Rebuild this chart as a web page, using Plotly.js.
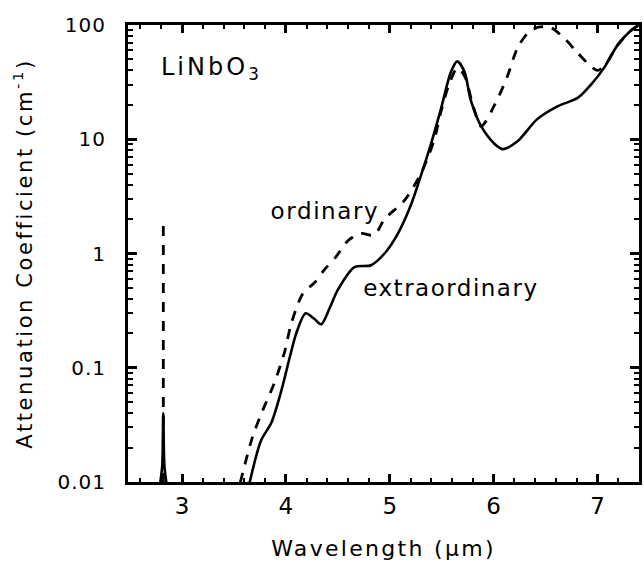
<!DOCTYPE html>
<html>
<head>
<meta charset="utf-8">
<script src="https://cdn.plot.ly/plotly-3.0.1.min.js"></script>
<style>
html,body{margin:0;padding:0;background:#fff;}
#wrap{position:relative;width:644px;height:566px;}
#chart{width:644px;height:566px;}
#tickOverlay{position:absolute;left:0;top:0;width:644px;height:566px;pointer-events:none;z-index:10;}
.y2title{letter-spacing:2.6px;}
.x2title{letter-spacing:2.3px;}
.annotation[data-index="0"] .annotation-text{letter-spacing:3px;}
.annotation[data-index="1"] .annotation-text{letter-spacing:1.6px;}
.annotation[data-index="2"] .annotation-text{letter-spacing:1.5px;}
.y2tick text{letter-spacing:1px;}
</style>
</head>
<body>
<div id="wrap">
<div id="chart"></div>
<svg id="tickOverlay" xmlns="http://www.w3.org/2000/svg" width="644" height="566" viewBox="0 0 644 566"></svg>
</div>
<script>
// Extraordinary (solid) — includes small spike near 2.82 µm
const extraordinary_x = [2.79, 2.81, 2.82, 2.83, 2.85, null,
  3.65, 3.76, 3.86, 3.95, 4.04, 4.10, 4.19, 4.27, 4.34, 4.42, 4.50, 4.66, 4.82, 4.95, 5.08, 5.20, 5.30, 5.40, 5.49, 5.59, 5.65, 5.72, 5.78, 5.88, 6.01, 6.09, 6.23, 6.42, 6.62, 6.81, 6.93, 7.07, 7.19, 7.32, 7.40];
const extraordinary_y = [0.0098, 0.014, 0.04, 0.014, 0.0098, null,
  0.0098, 0.023, 0.033, 0.060, 0.126, 0.20, 0.30, 0.27, 0.24, 0.33, 0.48, 0.76, 0.79, 1.0, 1.5, 2.6, 4.8, 9.3, 18, 39, 48, 39, 22, 13, 9.1, 8.2, 9.6, 15, 19.5, 23, 29.5, 43, 66, 89, 100];
// Ordinary (dashed) — includes spike near 2.82 µm
const ordinary_x = [2.82, 2.82, null,
  3.56, 3.68, 3.78, 3.89, 3.99, 4.05, 4.16, 4.28, 4.37, 4.48, 4.60, 4.72, 4.85, 4.95, 5.14, 5.30, 5.43, 5.49, 5.57, 5.65, 5.72, 5.80, 5.88, 6.01, 6.13, 6.23, 6.33, 6.43, 6.55, 6.69, 6.80, 6.92, 7.00, 7.07, 7.19, 7.32, 7.40];
const ordinary_y = [0.0098, 2.0, null,
  0.0098, 0.025, 0.043, 0.074, 0.14, 0.24, 0.44, 0.56, 0.72, 0.93, 1.3, 1.5, 1.45, 2.0, 2.9, 5.0, 10, 17, 30, 42, 36, 20, 13, 20, 35, 63, 85, 96, 95, 75, 58, 45, 40, 44, 66, 89, 100];

const x_tick_vals = [3, 4, 5, 6, 7];
const x_tick_text = ['3', '4', '5', '6', '7'];
const y_tick_vals = [0.01, 0.1, 1, 10, 100];
const y_tick_text = ['0.01', '0.1', '1', '10', '100'];

const label_ordinary = 'ordinary';
const label_extraordinary = 'extraordinary';
const label_material = 'LiNbO<sub>3</sub>';
const title_x = 'Wavelength (µm)\u00a0';
const title_y = '\u00a0\u00a0\u00a0\u00a0Attenuation Coefficient (cm<sup>-1</sup>)';

const FONT = 'DejaVu Sans, Liberation Sans, Arial, sans-serif';
const X_RANGE = [2.48, 7.40];
const Y_RANGE = [-2, 2];

const traces = [
  {x: extraordinary_x, y: extraordinary_y, xaxis: 'x', yaxis: 'y', mode: 'lines', type: 'scatter',
   line: {color: '#000', width: 2.6, shape: 'spline', smoothing: 0.8}, connectgaps: false, showlegend: false, hoverinfo: 'skip', name: 'extraordinary'},
  {x: ordinary_x, y: ordinary_y, xaxis: 'x2', yaxis: 'y2', mode: 'lines', type: 'scatter',
   line: {color: '#000', width: 2.8, dash: '10px,9px', shape: 'spline', smoothing: 0.8}, connectgaps: false, showlegend: false, hoverinfo: 'skip', name: 'ordinary'}
];

const layout = {
  width: 644, height: 566,
  margin: {l: 128, r: 5, t: 25, b: 84},
  paper_bgcolor: '#fff', plot_bgcolor: 'rgba(0,0,0,0)',
  font: {family: FONT, size: 20, color: '#000'},
  showlegend: false,
  // frame + inside major/minor ticks on all four sides
  xaxis: {
    range: X_RANGE, tickmode: 'array', tickvals: x_tick_vals, showticklabels: false,
    ticks: 'inside', ticklen: 8, tickwidth: 2.5, tickcolor: '#000',
    showline: true, linewidth: 3, linecolor: '#000', mirror: 'ticks',
    showgrid: false, zeroline: false,
    minor: {dtick: 0.2, tick0: 0, ticks: 'inside', ticklen: 4, tickwidth: 2, tickcolor: '#000', showgrid: false}
  },
  yaxis: {
    type: 'log', range: Y_RANGE, tickmode: 'array', tickvals: y_tick_vals, showticklabels: false,
    ticks: 'inside', ticklen: 9, tickwidth: 2.5, tickcolor: '#000',
    showline: true, linewidth: 3, linecolor: '#000', mirror: 'ticks',
    showgrid: false, zeroline: false,
    minor: {dtick: 'D1', ticks: 'inside', ticklen: 5, tickwidth: 2, tickcolor: '#000', showgrid: false}
  },
  // label axes (transparent outside ticks give the label spacing)
  xaxis2: {
    overlaying: 'x', anchor: 'y2', side: 'bottom', range: X_RANGE,
    tickmode: 'array', tickvals: x_tick_vals, ticktext: x_tick_text,
    ticks: 'outside', ticklen: 3, tickcolor: 'rgba(0,0,0,0)',
    showline: false, showgrid: false, zeroline: false,
    tickfont: {family: FONT, size: 23, color: '#000'},
    title: {text: title_x, font: {family: FONT, size: 22, color: '#000'}, standoff: 23}
  },
  yaxis2: {
    overlaying: 'y', anchor: 'x2', side: 'left', type: 'log', range: Y_RANGE,
    tickmode: 'array', tickvals: y_tick_vals, ticktext: y_tick_text,
    ticks: 'outside', ticklen: 17, tickcolor: 'rgba(0,0,0,0)',
    showline: false, showgrid: false, zeroline: false,
    tickfont: {family: FONT, size: 20, color: '#000'},
    title: {text: title_y, font: {family: FONT, size: 21, color: '#000'}, standoff: 19}
  },
  annotations: [
    {text: label_material, xref: 'paper', yref: 'paper', x: 0.078, y: 0.905, xanchor: 'left', yanchor: 'middle', showarrow: false, font: {family: FONT, size: 24, color: '#000'}},
    {text: label_ordinary, xref: 'x', yref: 'y', x: 4.376, y: 0.375, xanchor: 'center', yanchor: 'middle', showarrow: false, font: {family: FONT, size: 23, color: '#000'}},
    {text: label_extraordinary, xref: 'x', yref: 'y', x: 5.589, y: -0.302, xanchor: 'center', yanchor: 'middle', showarrow: false, font: {family: FONT, size: 23, color: '#000'}}
  ]
};

// Copy Plotly's own tick paths (as first drawn) into a separate overlay svg so later passes cannot hide them.
function copyTicks(gd) {
  const overlay = document.getElementById('tickOverlay');
  const paths = gd.querySelectorAll('path.xtick, path.ytick');
  if (!paths.length) return;
  while (overlay.firstChild) overlay.removeChild(overlay.firstChild);
  paths.forEach(p => {
    const c = document.createElementNS('http://www.w3.org/2000/svg', 'path');
    c.setAttribute('d', p.getAttribute('d'));
    const tr = p.getAttribute('transform');
    if (tr) c.setAttribute('transform', tr);
    const sw = p.style.strokeWidth || '2px';
    c.setAttribute('stroke', '#000');
    c.setAttribute('stroke-width', parseFloat(sw));
    c.setAttribute('fill', 'none');
    c.setAttribute('shape-rendering', 'crispEdges');
    overlay.appendChild(c);
  });
}

Plotly.newPlot('chart', traces, layout, {displayModeBar: false}).then(gd => {
  copyTicks(gd);
});
</script>
</body>
</html>
